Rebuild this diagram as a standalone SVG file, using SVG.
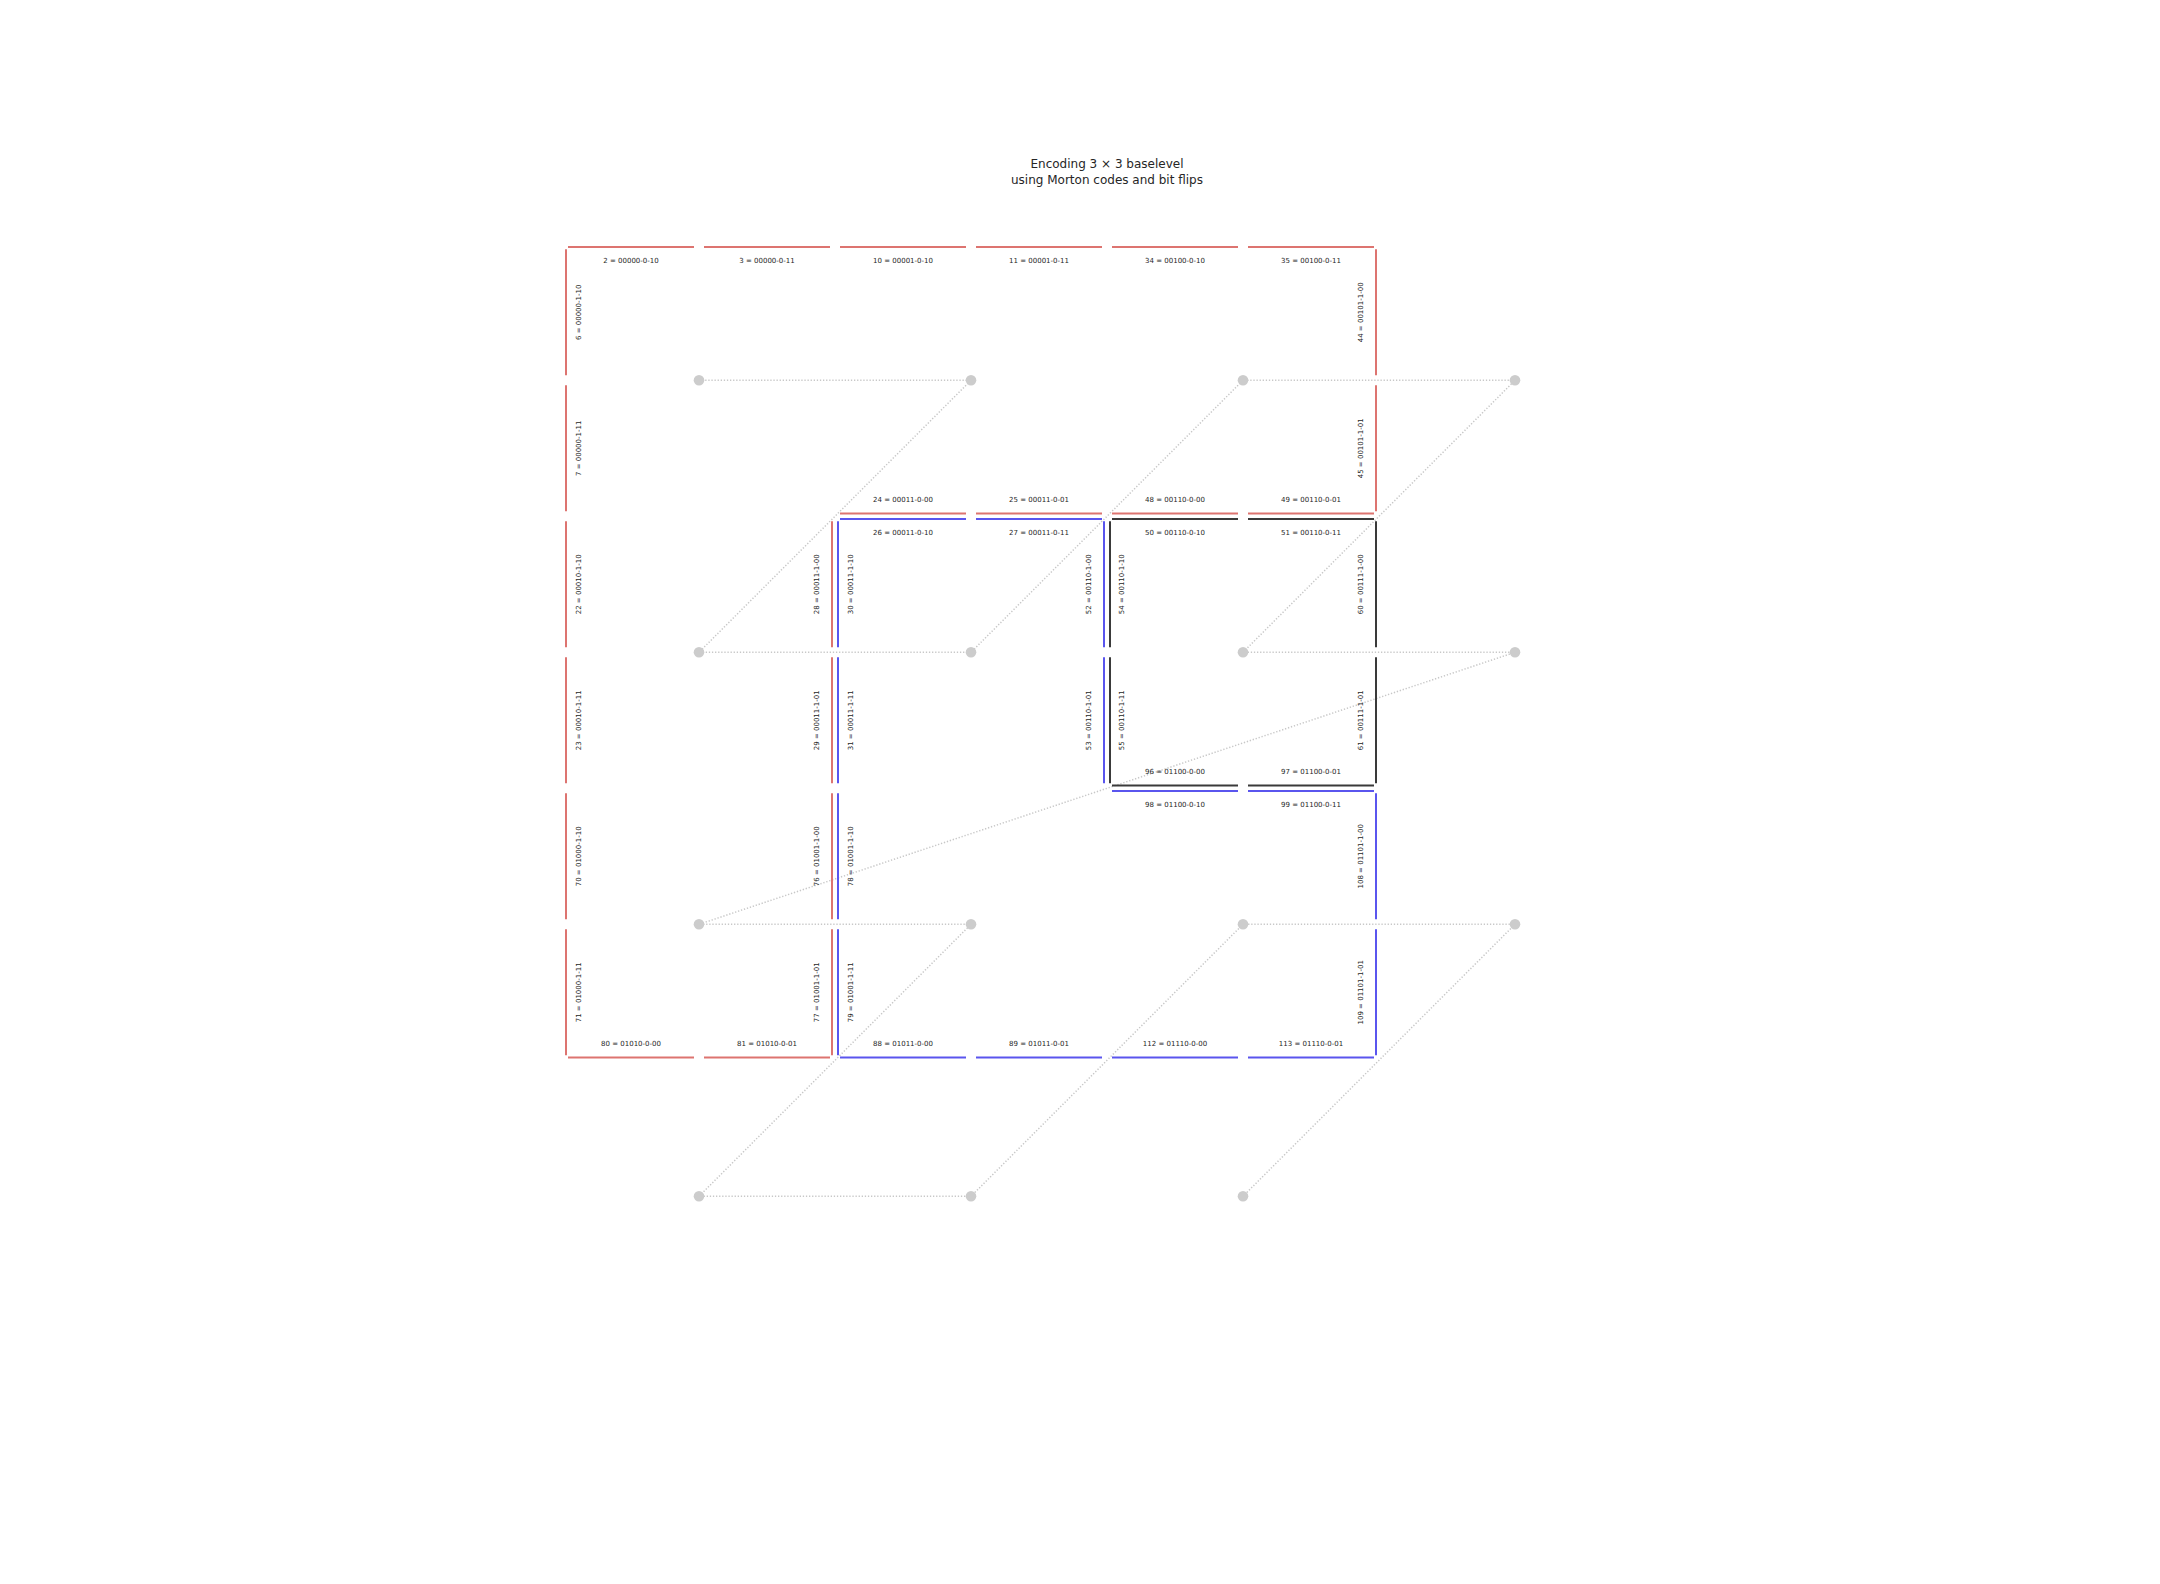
<svg xmlns="http://www.w3.org/2000/svg" width="2160" height="1584" viewBox="0 0 2160 1584">
<style>
text{font-family:"DejaVu Sans","Liberation Sans",sans-serif;fill:#262626}
.t{font-size:12px;text-anchor:middle}
.l{font-size:7px;text-anchor:middle}
.e{stroke-width:2;fill:none;stroke-linecap:butt}
.r{stroke:#dd7470}
.b{stroke:#5a55ee}
.k{stroke:#3a3a3a}
.path{stroke:#c8c8c8;stroke-width:1.5;stroke-dasharray:1.3 1.8;fill:none}
.dot{fill:#cccccc}
</style>
<rect width="2160" height="1584" fill="#ffffff"/>
<g id="title">
<text class="t" x="1107" y="167.5">Encoding 3 × 3 baselevel</text>
<text class="t" x="1107" y="183.5">using Morton codes and bit flips</text>
</g>
<g id="curve">
<path class="path" d="M699,380.3 L971,380.3 L699,652.3 L971,652.3 L1243,380.3 L1515,380.3 L1243,652.3 L1515,652.3 L699,924.3 L971,924.3 L699,1196.3 L971,1196.3 L1243,924.3 L1515,924.3 L1243,1196.3"/>
</g>
<g id="connectors">
<line class="e r" x1="568" y1="247" x2="694" y2="247"/>
<line class="e r" x1="704" y1="247" x2="830" y2="247"/>
<line class="e r" x1="840" y1="247" x2="966" y2="247"/>
<line class="e r" x1="976" y1="247" x2="1102" y2="247"/>
<line class="e r" x1="1112" y1="247" x2="1238" y2="247"/>
<line class="e r" x1="1248" y1="247" x2="1374" y2="247"/>
<line class="e r" x1="840" y1="513.6" x2="966" y2="513.6"/>
<line class="e r" x1="976" y1="513.6" x2="1102" y2="513.6"/>
<line class="e r" x1="1112" y1="513.6" x2="1238" y2="513.6"/>
<line class="e r" x1="1248" y1="513.6" x2="1374" y2="513.6"/>
<line class="e b" x1="840" y1="519" x2="966" y2="519"/>
<line class="e b" x1="976" y1="519" x2="1102" y2="519"/>
<line class="e k" x1="1112" y1="519" x2="1238" y2="519"/>
<line class="e k" x1="1248" y1="519" x2="1374" y2="519"/>
<line class="e k" x1="1112" y1="785.6" x2="1238" y2="785.6"/>
<line class="e k" x1="1248" y1="785.6" x2="1374" y2="785.6"/>
<line class="e b" x1="1112" y1="791" x2="1238" y2="791"/>
<line class="e b" x1="1248" y1="791" x2="1374" y2="791"/>
<line class="e r" x1="568" y1="1057.6" x2="694" y2="1057.6"/>
<line class="e r" x1="704" y1="1057.6" x2="830" y2="1057.6"/>
<line class="e b" x1="840" y1="1057.6" x2="966" y2="1057.6"/>
<line class="e b" x1="976" y1="1057.6" x2="1102" y2="1057.6"/>
<line class="e b" x1="1112" y1="1057.6" x2="1238" y2="1057.6"/>
<line class="e b" x1="1248" y1="1057.6" x2="1374" y2="1057.6"/>
<line class="e r" x1="566" y1="249.3" x2="566" y2="375.3"/>
<line class="e r" x1="566" y1="385.3" x2="566" y2="511.3"/>
<line class="e r" x1="566" y1="521.3" x2="566" y2="647.3"/>
<line class="e r" x1="566" y1="657.3" x2="566" y2="783.3"/>
<line class="e r" x1="566" y1="793.3" x2="566" y2="919.3"/>
<line class="e r" x1="566" y1="929.3" x2="566" y2="1055.3"/>
<line class="e r" x1="832" y1="521.3" x2="832" y2="647.3"/>
<line class="e r" x1="832" y1="657.3" x2="832" y2="783.3"/>
<line class="e r" x1="832" y1="793.3" x2="832" y2="919.3"/>
<line class="e r" x1="832" y1="929.3" x2="832" y2="1055.3"/>
<line class="e b" x1="838" y1="521.3" x2="838" y2="647.3"/>
<line class="e b" x1="838" y1="657.3" x2="838" y2="783.3"/>
<line class="e b" x1="838" y1="793.3" x2="838" y2="919.3"/>
<line class="e b" x1="838" y1="929.3" x2="838" y2="1055.3"/>
<line class="e b" x1="1104" y1="521.3" x2="1104" y2="647.3"/>
<line class="e b" x1="1104" y1="657.3" x2="1104" y2="783.3"/>
<line class="e k" x1="1110" y1="521.3" x2="1110" y2="647.3"/>
<line class="e k" x1="1110" y1="657.3" x2="1110" y2="783.3"/>
<line class="e r" x1="1376" y1="249.3" x2="1376" y2="375.3"/>
<line class="e r" x1="1376" y1="385.3" x2="1376" y2="511.3"/>
<line class="e k" x1="1376" y1="521.3" x2="1376" y2="647.3"/>
<line class="e k" x1="1376" y1="657.3" x2="1376" y2="783.3"/>
<line class="e b" x1="1376" y1="793.3" x2="1376" y2="919.3"/>
<line class="e b" x1="1376" y1="929.3" x2="1376" y2="1055.3"/>
</g>
<g id="dots">
<circle class="dot" cx="699" cy="380.3" r="5.3"/>
<circle class="dot" cx="971" cy="380.3" r="5.3"/>
<circle class="dot" cx="1243" cy="380.3" r="5.3"/>
<circle class="dot" cx="1515" cy="380.3" r="5.3"/>
<circle class="dot" cx="699" cy="652.3" r="5.3"/>
<circle class="dot" cx="971" cy="652.3" r="5.3"/>
<circle class="dot" cx="1243" cy="652.3" r="5.3"/>
<circle class="dot" cx="1515" cy="652.3" r="5.3"/>
<circle class="dot" cx="699" cy="924.3" r="5.3"/>
<circle class="dot" cx="971" cy="924.3" r="5.3"/>
<circle class="dot" cx="1243" cy="924.3" r="5.3"/>
<circle class="dot" cx="1515" cy="924.3" r="5.3"/>
<circle class="dot" cx="699" cy="1196.3" r="5.3"/>
<circle class="dot" cx="971" cy="1196.3" r="5.3"/>
<circle class="dot" cx="1243" cy="1196.3" r="5.3"/>
</g>
<g id="labels-h">
<text class="l" x="631" y="263">2 = 00000-0-10</text>
<text class="l" x="767" y="263">3 = 00000-0-11</text>
<text class="l" x="903" y="263">10 = 00001-0-10</text>
<text class="l" x="1039" y="263">11 = 00001-0-11</text>
<text class="l" x="1175" y="263">34 = 00100-0-10</text>
<text class="l" x="1311" y="263">35 = 00100-0-11</text>
<text class="l" x="903" y="501.8">24 = 00011-0-00</text>
<text class="l" x="1039" y="501.8">25 = 00011-0-01</text>
<text class="l" x="1175" y="501.8">48 = 00110-0-00</text>
<text class="l" x="1311" y="501.8">49 = 00110-0-01</text>
<text class="l" x="903" y="535">26 = 00011-0-10</text>
<text class="l" x="1039" y="535">27 = 00011-0-11</text>
<text class="l" x="1175" y="535">50 = 00110-0-10</text>
<text class="l" x="1311" y="535">51 = 00110-0-11</text>
<text class="l" x="1175" y="773.8">96 = 01100-0-00</text>
<text class="l" x="1311" y="773.8">97 = 01100-0-01</text>
<text class="l" x="1175" y="807">98 = 01100-0-10</text>
<text class="l" x="1311" y="807">99 = 01100-0-11</text>
<text class="l" x="631" y="1045.8">80 = 01010-0-00</text>
<text class="l" x="767" y="1045.8">81 = 01010-0-01</text>
<text class="l" x="903" y="1045.8">88 = 01011-0-00</text>
<text class="l" x="1039" y="1045.8">89 = 01011-0-01</text>
<text class="l" x="1175" y="1045.8">112 = 01110-0-00</text>
<text class="l" x="1311" y="1045.8">113 = 01110-0-01</text>
</g>
<g id="labels-v">
<text class="l" x="581.2" y="312.3" transform="rotate(-90 581.2 312.3)">6 = 00000-1-10</text>
<text class="l" x="581.2" y="448.3" transform="rotate(-90 581.2 448.3)">7 = 00000-1-11</text>
<text class="l" x="581.2" y="584.3" transform="rotate(-90 581.2 584.3)">22 = 00010-1-10</text>
<text class="l" x="581.2" y="720.3" transform="rotate(-90 581.2 720.3)">23 = 00010-1-11</text>
<text class="l" x="581.2" y="856.3" transform="rotate(-90 581.2 856.3)">70 = 01000-1-10</text>
<text class="l" x="581.2" y="992.3" transform="rotate(-90 581.2 992.3)">71 = 01000-1-11</text>
<text class="l" x="819.5" y="584.3" transform="rotate(-90 819.5 584.3)">28 = 00011-1-00</text>
<text class="l" x="819.5" y="720.3" transform="rotate(-90 819.5 720.3)">29 = 00011-1-01</text>
<text class="l" x="819.5" y="856.3" transform="rotate(-90 819.5 856.3)">76 = 01001-1-00</text>
<text class="l" x="819.5" y="992.3" transform="rotate(-90 819.5 992.3)">77 = 01001-1-01</text>
<text class="l" x="853.2" y="584.3" transform="rotate(-90 853.2 584.3)">30 = 00011-1-10</text>
<text class="l" x="853.2" y="720.3" transform="rotate(-90 853.2 720.3)">31 = 00011-1-11</text>
<text class="l" x="853.2" y="856.3" transform="rotate(-90 853.2 856.3)">78 = 01001-1-10</text>
<text class="l" x="853.2" y="992.3" transform="rotate(-90 853.2 992.3)">79 = 01001-1-11</text>
<text class="l" x="1091.5" y="584.3" transform="rotate(-90 1091.5 584.3)">52 = 00110-1-00</text>
<text class="l" x="1091.5" y="720.3" transform="rotate(-90 1091.5 720.3)">53 = 00110-1-01</text>
<text class="l" x="1124" y="584.3" transform="rotate(-90 1124 584.3)">54 = 00110-1-10</text>
<text class="l" x="1124" y="720.3" transform="rotate(-90 1124 720.3)">55 = 00110-1-11</text>
<text class="l" x="1363.2" y="312.3" transform="rotate(-90 1363.2 312.3)">44 = 00101-1-00</text>
<text class="l" x="1363.2" y="448.3" transform="rotate(-90 1363.2 448.3)">45 = 00101-1-01</text>
<text class="l" x="1363.2" y="584.3" transform="rotate(-90 1363.2 584.3)">60 = 00111-1-00</text>
<text class="l" x="1363.2" y="720.3" transform="rotate(-90 1363.2 720.3)">61 = 00111-1-01</text>
<text class="l" x="1363.2" y="856.3" transform="rotate(-90 1363.2 856.3)">108 = 01101-1-00</text>
<text class="l" x="1363.2" y="992.3" transform="rotate(-90 1363.2 992.3)">109 = 01101-1-01</text>
</g>
</svg>
